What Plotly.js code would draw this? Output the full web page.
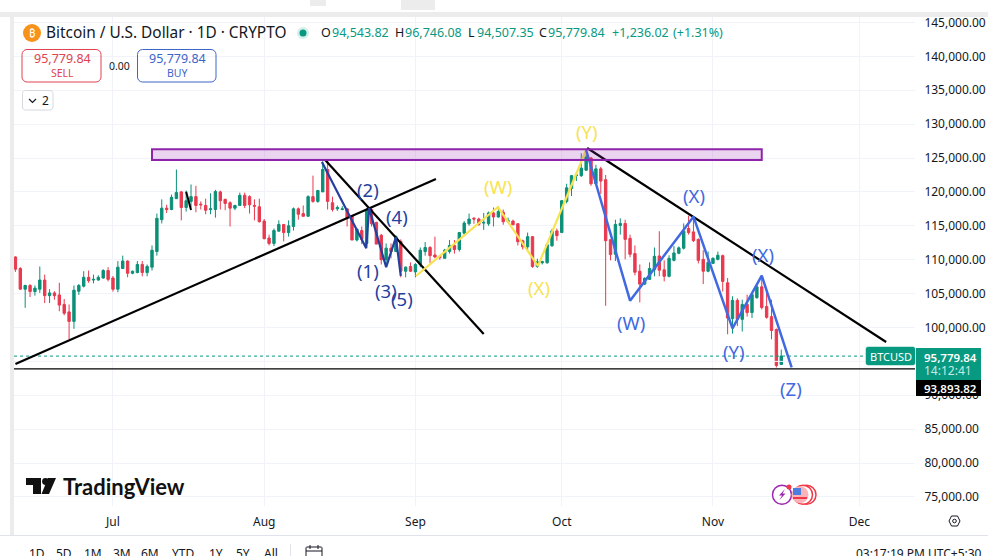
<!DOCTYPE html>
<html><head><meta charset="utf-8">
<script src="https://cdn.plot.ly/plotly-3.0.1.min.js"></script>
<style>html,body{margin:0;padding:0;background:#fff;overflow:hidden}#c{width:988px;height:556px}</style>
</head><body><div id="c"></div>
<script>
// ---- data (USD thousands) ----
const monthRuns = [["2025-06",11,30],["2025-07",1,31],["2025-08",1,31],["2025-09",1,30],["2025-10",1,31],["2025-11",1,15]];
const dates = monthRuns.flatMap(([m,a,b])=>{const r=[];for(let d=a;d<=b;d++)r.push(m+"-"+String(d).padStart(2,"0"));return r;});
const opens = [110.4,108.7,105.65,106.2,105.3,105.65,107,104.7,105.1,104.8,103.4,102.3,100.9,105.35,106.1,107.4,107,107,107.3,108.4,
107.3,105.65,108.7,109.8,108,108.1,109.3,108.1,108.9,111.2,115.9,117.6,117.4,119,120,117.7,118.6,119.3,118.2,118,117.4,117.4,120,118.9,118.4,117.6,118,119.5,119.3,118,117.8,
115.7,113.2,112.4,114.2,115.2,114,114.9,117.5,116.8,116.4,119.3,118.6,120,123.3,118.4,117.5,117.4,117.5,116.5,112.9,114.3,112.4,117.4,115.5,113.6,110,111.7,111.2,112.7,108.3,109,
108.2,109.3,111.2,111.8,110.7,110.5,110.2,111.2,112.1,111.5,113.9,115.3,116.1,116,115.4,115.3,116.9,116.3,117,115.65,115.7,115.3,112.8,111.9,113.4,109,109.55,109.55,112.05,114.25,
114,118.6,120.5,122.4,122.4,123.2,125,121.2,123.4,121.8,112.95,110.8,115.05,115.35,113.15,110.9,108.3,106.4,107.1,108.5,110.55,108.5,107.55,109.9,110.95,111.7,114.6,114.1,113,110.05,108.3,
109.45,110.05,110.6,106.6,101.3,104,101.2,103.4,102.2,104.4,106,103.1,101.6,99.7,94.54382];
const highs = [110.5,108.9,106.3,106.4,106.2,109,107.8,105.65,105.35,106.6,104.2,103.4,106.2,106.4,108.3,108.4,107.8,107.7,108.6,108.9,
107.6,109.8,110.6,109.9,108.4,109.8,109.8,109.3,112.1,116.8,118.9,118.1,119.6,123.3,120.15,120.2,121.1,120.9,118.6,119,119.8,120.3,120.2,119,118.6,118.1,119.9,119.9,119.5,118.9,119,
116,113.7,114.6,115.8,115.2,115.8,117.7,117.7,118,119.5,122.4,120.3,124.5,124.6,119.3,118,117.9,117.6,116.6,114.6,114.9,117.6,117.7,115.6,113.8,112.4,112.4,113.6,113,109,109.6,
109.5,111.8,112.6,112,113.4,110.7,111.6,112.9,112.9,114.1,115.7,116.8,116.3,116.2,116.9,117.1,117.7,117.9,117.4,116.2,115.9,115.4,112.95,114,113.5,110.15,109.85,112.35,114.55,114.6,
118.8,121.2,122.5,122.95,125.7,126.2,125.15,124,123.7,122.5,113,115.9,116.1,115.9,113.7,112.1,109.3,107.4,109.6,111.8,114.2,109.9,110.65,112,111.95,115.35,116.5,116.2,113.15,111.4,111.2,
110.35,111.2,110.75,107.3,104.6,104.3,104.1,104.85,105,106.3,107.55,105.25,104.1,99.85,96.74608];
const lows = [108.2,105.6,102.9,104.5,104.7,105.1,103.6,103.6,104.1,102.4,101.8,98.3,99.8,104.8,105.9,106.6,106.5,106.9,107.2,106.8,
105.3,105.2,108.7,107.4,107.85,108,107.55,107.55,108.4,110.6,115.35,116.9,117.3,119,115.8,117.1,117.7,117,117.4,116.7,116.7,116.2,117.4,117.3,114.9,117.3,118,117.6,116.8,115.8,115.5,
113,112.1,112,114.2,112.7,113.4,114.3,115.9,116.4,116.4,118.4,118.4,120,117.4,117.1,117.2,117.3,114.9,112.9,112.7,112.3,112.3,114.9,112.3,109.3,109.3,110.2,111.2,107.4,107.4,108.2,
107.4,108.9,110.6,109.5,110.2,110,110.2,110.9,110.9,111.2,113.7,115,115.3,115,114.4,115,114.9,116.2,115.15,115.45,115.1,112.1,111.5,111.2,108.8,108.8,109.3,109.4,111.9,112.8,
114,118.3,119.4,121.6,122.2,123.1,120.9,121,119.7,103.2,109.9,109.8,113.7,110.05,110.35,107.7,103.7,106.25,107,107.55,107.55,106.8,107.4,109.75,110.8,111.5,113.7,112.6,109.45,106.4,108.15,
109.45,109.9,105.3,99,99.1,100.2,99.4,101.6,101.4,104.25,102.65,101.3,98.25,94.1,94.50735];
const closes = [108.6,105.65,106.2,105.3,105.8,107,104.7,105.1,104.7,103.3,102.1,100.9,105.5,106.2,107.4,106.9,107.1,107.4,108.4,107.1,
105.65,108.9,109.8,108,108.3,109.3,108.1,109,111.4,116.1,117.6,117.4,119.2,119.9,117.7,118.7,119.3,118,118.1,117.3,117.5,120.05,118.7,118.3,117.6,118,119.5,118,118.1,117.9,115.6,
113.1,112.4,114.3,115.2,114,115,117.5,116.7,116.4,119.3,118.6,120.2,123.3,118.6,117.4,117.7,117.5,116.2,112.9,114.5,113,117.4,115.3,112.3,110,111.7,111.2,113.4,108.3,108.9,108.3,
109.3,111.4,111.8,110.6,110.4,110.3,111.4,112.1,111.5,114,115.4,116,116,115.2,115.5,116.9,116.3,117.1,115.6,115.75,115.15,112.65,111.9,113.4,109,109.7,109.7,112.2,114.25,113.55,
118.7,120.6,122.4,122.5,123.5,125.15,121.2,123.4,121.6,112.8,110.75,115.2,115.35,113,110.8,108.15,106.4,107.25,108.7,110.5,108.45,107.55,110.2,111,111.75,114.2,114,112.8,109.9,108.3,109.6,
110.2,110.65,106.8,101.4,104,101.2,103.4,102.2,104.85,106,102.95,101.5,99.55,94.4,95.77984];
const toUsd = a => a.map(v => v*1000);

const priceTicks = [75000,80000,85000,90000,100000,105000,110000,115000,120000,125000,130000,135000,140000,145000];
const priceTickText = ["75,000.00","80,000.00","85,000.00","90,000.00","100,000.00","105,000.00","110,000.00","115,000.00","120,000.00","125,000.00","130,000.00","135,000.00","140,000.00","145,000.00"];
const hiddenGridPrice = 95000;
const monthTicks = ["2025-07-01","2025-08-01","2025-09-01","2025-10-01","2025-11-01","2025-12-01"];
const monthText = ["Jul","Aug","Sep","Oct","Nov","Dec"];

const lastPrice = 95779.84, supportPrice = 93893.82;
const edgeDates = ["2025-06-10 17:00","2025-12-12 10:00"];

// hand-drawn lines on the chart (date, USD thousands)
const trendUpX = ["2025-06-11","2025-09-05 05:00"],           trendUpY = [94.62,121.9];
const trendMidX = ["2025-08-13 12:00","2025-09-15"],           trendMidY = [124.7,99.04];
const trendTopX = ["2025-10-06 05:00","2025-12-06 12:00"],     trendTopY = [126.47,97.86];
const tickMarkX = ["2025-07-16","2025-07-17"],                 tickMarkY = [120.03,117.33];
const waveNavyX = ["2025-08-12 20:00","2025-08-21 22:00","2025-08-22 12:00","2025-08-26","2025-08-28","2025-08-29"];
const waveNavyY = [124.4,111.7,117.6,108.9,113.3,107.6];
const waveYellowX = ["2025-09-01 03:00","2025-09-17 22:00","2025-09-26 03:00","2025-10-06"];
const waveYellowY = [107.6,117.77,109.07,126.18];
const waveBlueX = ["2025-10-06","2025-10-15","2025-10-28","2025-11-05","2025-11-11","2025-11-17 03:00"];
const waveBlueY = [126.18,103.95,116.34,99.88,107.64,94.13];
const zoneX = ["2025-07-09","2025-11-11"], zoneY = [124.7,126.3];

// ---- page geometry ----
const W=988,H=556,L=14,R=73,T=14,B=50;
const px=x=>(x-L)/(W-L-R), py=y=>1-(y-T)/(H-T-B);
const FONT='"Noto Sans", sans-serif';
const GREEN="#089981",RED="#e8394f",NAVY="#24409e",YEL="#f7e352",BLUE="#4169e1";

function ln(x,y,color,width,dash){return {type:"scatter",mode:"lines",x,y:toUsd(y),line:{color,width,dash:dash||"solid"},hoverinfo:"skip",showlegend:false};}
const traces=[
 ln(edgeDates,[hiddenGridPrice/1000,hiddenGridPrice/1000],"#f0f3fa",1),
 {type:"candlestick",x:dates,open:toUsd(opens),high:toUsd(highs),low:toUsd(lows),close:toUsd(closes),
  increasing:{line:{color:"#0b9078",width:1},fillcolor:"#0b9078"},decreasing:{line:{color:RED,width:1},fillcolor:RED},
  width:86400000*0.62,hoverinfo:"skip",showlegend:false},
 ln(edgeDates,[lastPrice/1000,lastPrice/1000],GREEN,1,"dot"),
 ln(edgeDates,[supportPrice/1000,supportPrice/1000],"#000",1.3),
 ln(trendUpX,trendUpY,"#000",2.2),
 ln(trendMidX,trendMidY,"#000",2.2),
 ln(trendTopX,trendTopY,"#000",2.2),
 ln(tickMarkX,tickMarkY,"#000",2),
 ln(waveNavyX,waveNavyY,NAVY,2.2),
 ln(waveYellowX,waveYellowY,YEL,2.2),
 ln(waveBlueX,waveBlueY,BLUE,2.5)
];

function rectS(x0,y0,x1,y1,fill,line,lw){return {type:"rect",xref:"paper",yref:"paper",x0:px(x0),x1:px(x1),y0:py(y0),y1:py(y1),fillcolor:fill,line:{color:line||"rgba(0,0,0,0)",width:lw||0},layer:"above"};}
function pathS(pts,fill,line,lw,close){
 const d=pts.map((p,i)=>(i?"L":"M")+px(p[0])+","+py(p[1])).join(" ")+(close?" Z":"");
 return {type:"path",xref:"paper",yref:"paper",path:d,fillcolor:fill||"rgba(0,0,0,0)",line:{color:line||"rgba(0,0,0,0)",width:lw||0},layer:"above"};}
function circS(cx,cy,r,fill,line,lw){return {type:"circle",xref:"paper",yref:"paper",x0:px(cx-r),x1:px(cx+r),y0:py(cy+r),y1:py(cy-r),fillcolor:fill||"rgba(0,0,0,0)",line:{color:line||"rgba(0,0,0,0)",width:lw||0},layer:"above"};}
function rrect(x0,y0,x1,y1,r,line,lw,fill){
 const a=[];const arc=(cx,cy,s)=>{for(let i=0;i<=4;i++){const t=s+i*Math.PI/8;a.push([cx+r*Math.cos(t),cy+r*Math.sin(t)]);}};
 arc(x1-r,y0+r,-Math.PI/2);arc(x1-r,y1-r,0);arc(x0+r,y1-r,Math.PI/2);arc(x0+r,y0+r,Math.PI);
 return pathS(a,fill,line,lw,true);}

const shapes=[
 // chrome
 rectS(0,12,988,17,"#ececec"),
 rectS(10,17,14,535,"#ececec"),
 rectS(401,0,435,10,"#ececec"),
 rectS(310,0,326,6,"#ececec"),
 rectS(0,535,988,536,"#e0e3eb"),
 rectS(290,544,291,556,"#e0e3eb"),
 // zone rectangle from data
 {type:"rect",xref:"x",yref:"y",x0:zoneX[0],x1:zoneX[1],y0:zoneY[0]*1000,y1:zoneY[1]*1000,fillcolor:"rgba(156,39,176,0.2)",line:{color:"#8e24aa",width:2},layer:"above"},
 // price tags
 rrect(866,347,915,365,2,GREEN,0.5,GREEN),
 rectS(916,348,981,380,GREEN),
 rectS(916,380,981,396,"#000"),
 // header
 circS(32,33,9,"#f7931a"),
 circS(303,33,6,"#d5f0ea"),
 circS(303,33,3.5,GREEN),
 rrect(22,49.5,101,82,5,"#e0434f",1),
 rrect(137.5,49.5,216,82,5,"#3d66c9",1),
 rrect(22.5,90.5,53,110,3,"#d6d8de",1,"#fff"),
 pathS([[29,99],[32.5,102.5],[36,99]],null,"#131722",1.2),
 // logo
 pathS([[26,478],[41,478],[41,494],[33,494],[33,485],[26,485]],"#111"),
 circS(45.5,481.5,3.4,"#111"),
 pathS([[48,478],[56,478],[49,494],[41.5,494]],"#111"),
 // event badges
 circS(782,494.7,9.5,"#fff","#9c27b0",1.5),
 pathS([[785,489],[779,495.5],[782,495.5],[779.5,500],[785.5,493.5],[782.5,493.5]],"#9c27b0"),
 circS(806.5,494.7,9.5,"#fff","#f23645",1.5),
 circS(803,494.7,9.5,"#fff","#f23645",1.5),
 circS(800,494.7,8.5,"#f8b4b8"),
 rectS(793,488,801,495,"#4a7fe0"),
 rectS(793,497,807,499,"#f23645"),
 circS(789,487,2.5,"#f23645"),
 // settings hexagon and calendar
 pathS([[949,521],[951.5,516],[957.5,516],[960,521],[957.5,526],[951.5,526]],null,"#131722",1,true),
 circS(954.5,521,1.8,null,"#131722",1),
 rrect(306,547,322,560,1,"#131722",1),
 pathS([[306,551],[322,551]],null,"#131722",1),
 pathS([[310,545],[310,549]],null,"#131722",1),
 pathS([[318,545],[318,549]],null,"#131722",1)
];

function lab(text,x,y,size,color,extra){return Object.assign({xref:"paper",yref:"paper",x:px(x),y:py(y),text,showarrow:false,xanchor:"center",yanchor:"middle",borderpad:0,
  font:{family:FONT,size,color}},extra||{});}
const left={xanchor:"left"};
const DK="#131722";
const annotations=[
 lab("₿",32,33,11,"#fff"),
 lab("Bitcoin / U.S. Dollar · 1D · CRYPTO",45,33,15.4,DK,left),
 lab("O",320,33,12.5,DK,left),lab("94,543.82",331,33,12.5,GREEN,left),
 lab("H",394,33,12.5,DK,left),lab("96,746.08",404,33,12.5,GREEN,left),
 lab("L",467,33,12.5,DK,left),lab("94,507.35",476,33,12.5,GREEN,left),
 lab("C",538,33,12.5,DK,left),lab("95,779.84",547,33,12.5,GREEN,left),
 lab("+1,236.02",611,33,12.5,GREEN,left),lab("(+1.31%)",672,33,12.5,GREEN,left),
 lab("95,779.84",62,59,12.5,"#e0434f"),lab("SELL",62,73,10.5,"#e0434f"),
 lab("0.00",119,66,10.5,DK),
 lab("95,779.84",177,59,12.5,"#3d66c9"),lab("BUY",177,73,10.5,"#3d66c9"),
 lab("2",45,100.5,12,DK),
 lab("TradingView",62,486,21,"#111",Object.assign({},left,{font:{family:'Lato, sans-serif',size:22,color:"#111",weight:700}})),
 // wave labels
 lab("(2)",368,189,18.5,NAVY),lab("(4)",397,216,18.5,NAVY),lab("(1)",368,270,18.5,NAVY),lab("(3)",386,290,18.5,NAVY),lab("(5)",402,298,18.5,NAVY),
 lab("(W)",498,187,18.5,YEL),lab("(Y)",587,131,18.5,YEL),lab("(X)",539,287,18.5,YEL),
 lab("(X)",694,195,18.5,BLUE),lab("(W)",631,322,18.5,BLUE),lab("(X)",763,255,18.5,BLUE),lab("(Y)",734,351,18.5,BLUE),lab("(Z)",791,388,18.5,BLUE),
 // tags
 lab("BTCUSD",890.5,356,11,"#fff"),
 lab("95,779.84",950,357,11.5,"#fff",{font:{family:FONT,size:11.5,color:"#fff",weight:600}}),
 lab("14:12:41",948,370,12,"#c5ebe3"),
 lab("93,893.82",950,388,11.5,"#fff",{font:{family:FONT,size:11.5,color:"#fff",weight:600}}),
 // bottom bar
 lab("1D",37,553,12,DK),lab("5D",64,553,12,DK),lab("1M",93,553,12,DK),lab("3M",122,553,12,DK),lab("6M",150,553,12,DK),
 lab("YTD",183,553,12,DK),lab("1Y",216,553,12,DK),lab("5Y",243,553,12,DK),lab("All",271,553,12,DK),
 lab("03:17:19 PM UTC+5:30",983,553,12,DK,{xanchor:"right"})
];

const layout={
 width:W,height:H,margin:{l:L,r:R,t:T,b:B,pad:0},paper_bgcolor:"#fff",plot_bgcolor:"#fff",showlegend:false,
 font:{family:FONT,size:12,color:DK},
 xaxis:{type:"date",range:edgeDates,tickmode:"array",tickvals:monthTicks,ticktext:monthText,tickangle:0,
   rangeslider:{visible:false},showgrid:true,gridcolor:"#f0f3fa",gridwidth:1,zeroline:false,showline:false,
   ticks:"outside",ticklen:5,tickcolor:"rgba(0,0,0,0)",tickfont:{family:FONT,size:12,color:DK}},
 yaxis:{side:"right",range:[73670,146240],tickmode:"array",tickvals:priceTicks,ticktext:priceTickText,
   showgrid:true,gridcolor:"#f0f3fa",gridwidth:1,zeroline:false,showline:false,
   ticks:"outside",ticklen:6,tickcolor:"rgba(0,0,0,0)",tickfont:{family:FONT,size:12,color:DK}},
 shapes,annotations
};
Plotly.newPlot("c",traces,layout,{staticPlot:true,displayModeBar:false});
</script></body></html>
